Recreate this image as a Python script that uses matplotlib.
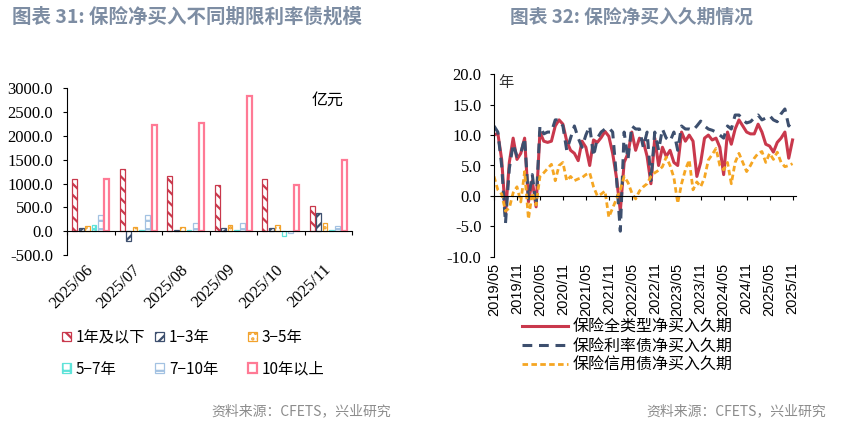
import numpy as np
import pandas as pd
import matplotlib
matplotlib.use('Agg')
import matplotlib.pyplot as plt
from matplotlib.patches import Patch

plt.rcParams['font.family'] = ['Noto Sans CJK SC', 'DejaVu Sans']
plt.rcParams['hatch.linewidth'] = 1.6
plt.rcParams['axes.unicode_minus'] = False

# ---- left chart data (亿元) ----
months_left = ['2025/06', '2025/07', '2025/08', '2025/09', '2025/10', '2025/11']
terms = ['1年及以下', '1−3年', '3−5年', '5−7年', '7−10年', '10年以上']
v_1y = [1100, 1300, 1150, 960, 1090, 520]
v_1_3 = [60, -200, 20, 60, 60, 390]
v_3_5 = [100, 80, 80, 140, 140, 180]
v_5_7 = [120, 20, 20, 20, -100, 20]
v_7_10 = [330, 330, 180, 180, -30, 100]
v_10y = [1100, 2230, 2265, 2840, 960, 1490]

# ---- right chart data (年), monthly from 2019/05 ----
start_month = '2019-05'
dur_all = [10.0, 10.3, 6.0, -3.0, 5.5, 9.5, 6.0, 7.0, 9.5, -1.0,
           2.5, -1.8, 10.5, 9.0, 8.8, 9.0, 11.5, 12.5, 11.8, 9.0,
           7.5, 7.0, 5.8, 9.0, 8.0, 5.0, 9.2, 8.8, 9.6, 10.6,
           9.8, 7.0, 3.0, -2.5, 5.5, 7.0, 10.5, 7.5, 9.5, 9.0,
           6.5, 2.0, 9.5, 5.0, 8.0, 6.5, 7.5, 5.5, 5.0, 10.5,
           9.0, 10.0, 9.0, 3.2, 5.5, 9.5, 10.0, 9.2, 9.5, 8.0,
           3.5, 10.5, 8.5, 11.0, 12.5, 11.5, 10.5, 10.2, 10.2, 11.8,
           10.5, 8.5, 8.2, 7.2, 8.8, 9.5, 10.5, 6.2, 9.2]
dur_rate = [11.5, 10.5, 5.0, -4.5, 4.5, 8.5, 6.5, 7.0, 9.5, -0.5,
            3.5, -1.5, 11.5, 10.2, 10.5, 10.5, 12.5, 12.5, 11.5, 7.5,
            9.5, 11.5, 9.5, 8.0, 10.0, 11.5, 6.5, 9.5, 10.5, 11.0,
            11.2, 10.5, 3.0, -5.8, 10.5, 6.0, 11.5, 11.0, 11.0, 8.0,
            10.5, 2.5, 10.5, 7.5, 11.0, 9.5, 9.0, 10.5, 7.5, 11.5,
            11.0, 11.0, 10.8, 11.5, 12.3, 11.5, 11.0, 10.8, 10.5, 10.0,
            9.5, 11.5, 11.0, 13.3, 13.3, 12.5, 12.0, 12.2, 12.8, 13.3,
            12.5, 12.8, 13.2, 12.5, 12.2, 13.5, 14.3, 11.5, 12.5]
dur_credit = [3.2, 1.0, 0.3, -2.5, -2.0, 0.5, 1.5, -1.0, 4.0, -3.8,
              0.5, -1.5, 3.2, 3.8, 4.5, 5.2, 2.5, 5.0, 5.5, 2.5,
              3.2, 2.5, 2.8, 3.0, 3.5, 3.8, 1.5, 0.0, 0.3, 0.8,
              -3.5, -2.0, -0.5, 1.0, 3.2, 2.2, 0.5, -0.5, 0.8, 1.5,
              2.0, 3.2, 3.8, 4.2, 4.8, 6.4, 5.0, 3.0, -1.2, 2.0,
              4.3, 5.9, 1.0, 2.3, 1.5, 3.0, 5.9, 6.8, 7.8, 5.0,
              4.3, 5.5, 2.0, 5.5, 7.0, 5.5, 4.0, 5.0, 6.2, 7.0,
              7.3, 5.5, 7.0, 6.0, 7.2, 5.5, 4.8, 5.0, 5.3]
line_names = ['保险全类型净买入久期', '保险利率债净买入久期', '保险信用债净买入久期']

title_color = '#7D8DA3'
serif = 'Liberation Serif'

fig = plt.figure(figsize=(8.42, 4.24), dpi=100)

fig.text(12 / 842, 1 - 17 / 424, '图表 31: 保险净买入不同期限利率债规模', fontsize=14,
         fontweight='bold', color=title_color, va='center', ha='left')
fig.text(510 / 842, 1 - 17 / 424, '图表 32: 保险净买入久期情况', fontsize=13.5,
         fontweight='bold', color=title_color, va='center', ha='left')
fig.text(391 / 842, 1 - 411 / 424, '资料来源：CFETS，兴业研究', fontsize=10,
         color='#8C8C8C', va='center', ha='right')
fig.text(826 / 842, 1 - 411 / 424, '资料来源：CFETS，兴业研究', fontsize=10,
         color='#8C8C8C', va='center', ha='right')

# ================= left: bars =================
ax1 = fig.add_axes([67 / 842, 1 - 255 / 424, 285 / 842, 166.7 / 424])
series = [v_1y, v_1_3, v_3_5, v_5_7, v_7_10, v_10y]
colors = ['#C9384C', '#3D4F6E', '#F2A22C', '#5EE3D9', '#A3C2E2', '#FF7A95']
hatches = ['\\\\\\', '///', '...', '++', '--', None]
lws = [0.9, 0.9, 0.9, 0.9, 0.9, 1.6]
x = np.arange(len(months_left))
w = 0.1
step = 0.134
handles = []
for k, (vals, c, h, lw) in enumerate(zip(series, colors, hatches, lws)):
    off = (k - 2.5) * step
    ax1.bar(x + off, vals, width=w, facecolor='white', edgecolor=c,
            hatch=h, linewidth=lw)
    handles.append(Patch(facecolor='white', edgecolor=c, hatch=h, linewidth=lw))

ax1.set_xlim(-0.5, 5.5)
ax1.set_ylim(-500, 3000)
ax1.set_yticks(np.arange(-500, 3001, 500))
ax1.set_yticklabels([f'{v:.1f}' for v in np.arange(-500, 3001, 500)],
                    fontfamily=serif, fontsize=12)
ax1.spines['top'].set_visible(False)
ax1.spines['right'].set_visible(False)
ax1.spines['bottom'].set_position(('data', 0))
ax1.set_xticks(np.arange(-0.5, 5.6, 1.0))
ax1.set_xticklabels([])
ax1.set_xticks(x, minor=True)
ax1.set_xticklabels(months_left, minor=True, rotation=45, ha='right',
                    va='center', rotation_mode='anchor', fontfamily=serif,
                    fontsize=12)
ax1.tick_params(axis='x', which='major', direction='out', length=3, width=0.8)
ax1.tick_params(axis='x', which='minor', length=0, pad=26)
ax1.tick_params(axis='y', direction='out', length=3, width=0.8, pad=7)
ax1.text(0.915, 0.93, '亿元', transform=ax1.transAxes, fontsize=11.5,
         ha='center', va='center')

# legend in three columns placed separately
col_x = [62, 155, 248]
for j in range(3):
    idx = [j, j + 3]
    fig.legend([handles[i] for i in idx], [terms[i] for i in idx],
               loc='upper left', bbox_to_anchor=(col_x[j] / 842, 1 - 329 / 424),
               frameon=False, fontsize=11, handlelength=0.6, handleheight=0.6,
               handletextpad=0.3, labelspacing=0.95, borderpad=0,
               borderaxespad=0)

# ================= right: lines =================
ax2 = fig.add_axes([494 / 842, 1 - 256.7 / 424, 302 / 842, 182.4 / 424])
dates = pd.date_range(start_month, periods=len(dur_all), freq='MS')
t = np.arange(len(dur_all))
ax2.plot(t, dur_all, color='#C9384C', lw=2.2, label=line_names[0])
ax2.plot(t, dur_rate, color='#3D4F6E', lw=2.2, dashes=(3.2, 2.2),
         label=line_names[1])
ax2.plot(t, dur_credit, color='#F5A623', lw=2.0, dashes=(2.0, 1.2),
         label=line_names[2])
ax2.set_xlim(0, 78.9)
ax2.set_ylim(-10, 20)
ax2.set_yticks(np.arange(-10, 21, 5))
ax2.set_yticklabels([f'{v:.1f}' for v in np.arange(-10, 21, 5)],
                    fontfamily=serif, fontsize=12)
ax2.spines['top'].set_visible(False)
ax2.spines['right'].set_visible(False)
ax2.spines['bottom'].set_position(('data', 0))
ticks = t[::6]
ax2.set_xticks(ticks)
ax2.set_xticklabels([dates[i].strftime('%Y/%m') for i in ticks], rotation=90,
                    fontfamily='Liberation Sans', fontsize=10.5, va='top')
ax2.tick_params(axis='x', direction='out', length=3, width=0.8, pad=45)
ax2.tick_params(axis='y', direction='out', length=3, width=0.8, pad=6)
ax2.text(0.015, 0.955, '年', transform=ax2.transAxes, fontsize=11, ha='left',
         va='center', color='#333333')
ax2.legend(loc='upper left', bbox_to_anchor=(522 / 842, 1 - 319 / 424),
           bbox_transform=fig.transFigure, frameon=False, fontsize=11.5,
           handlelength=2.9, handletextpad=0.3, labelspacing=0.1,
           borderpad=0, borderaxespad=0)

fig.savefig('out.png', dpi=100)
